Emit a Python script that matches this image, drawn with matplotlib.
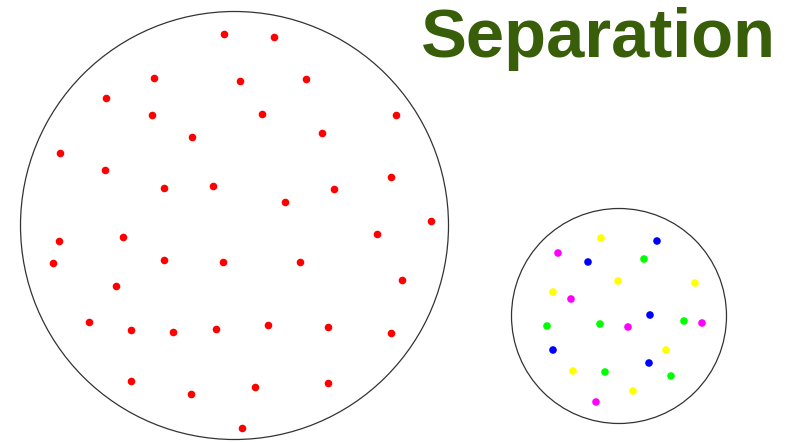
import matplotlib.pyplot as plt
from matplotlib.patches import Circle

# big circle: red points (pixel coords, y down)
red_x = [224, 274, 154, 240, 306, 106, 152, 262, 396, 192, 322, 60, 105, 391,
         164, 213, 334, 285, 431, 377, 59, 123, 53, 164, 223, 300, 402, 116,
         89, 131, 173, 216, 268, 328, 391, 131, 191, 255, 328, 242]
red_y = [34, 37, 78, 81, 79, 98, 115, 114, 115, 137, 133, 153, 170, 177,
         188, 186, 189, 202, 221, 234, 241, 237, 263, 260, 262, 262, 280, 286,
         322, 330, 332, 329, 325, 327, 333, 381, 394, 387, 383, 428]

# small circle: mixed colours
mix_x = [601, 657, 558, 588, 644, 618, 695, 553, 571, 650, 547, 600,
         628, 684, 702, 553, 666, 649, 573, 605, 671, 633, 596]
mix_y = [238, 241, 253, 262, 259, 281, 283, 292, 299, 315, 326, 324,
         327, 321, 323, 350, 350, 363, 371, 372, 376, 391, 402]
mix_c = ['y', 'b', 'm', 'b', 'g', 'y', 'y', 'y', 'm', 'b', 'g', 'g',
         'm', 'g', 'm', 'b', 'y', 'b', 'y', 'g', 'g', 'y', 'm']
palette = {'y': '#ffff00', 'b': '#0000ff', 'm': '#ff00ff', 'g': '#00ff00'}

circles = [(234.5, 225.5, 214), (619, 316, 107.5)]

fig = plt.figure(figsize=(7.99, 4.42), dpi=100)
ax = fig.add_axes([0, 0, 1, 1])
ax.set_xlim(0, 799)
ax.set_ylim(442, 0)
ax.set_aspect('equal')
ax.axis('off')

for cx, cy, r in circles:
    ax.add_patch(Circle((cx, cy), r, fill=False, edgecolor='#333333', linewidth=0.9))

ax.scatter(red_x, red_y, s=30, color='#ff0000', linewidths=0, zorder=3)
ax.scatter(mix_x, mix_y, s=30, color=[palette[c] for c in mix_c], linewidths=0, zorder=3)

ax.text(598, 57, 'Separation', ha='center', va='baseline', fontsize=49.5,
        fontweight='bold', family='Liberation Sans', color='#385e0a')

fig.savefig('out.png', dpi=100)
